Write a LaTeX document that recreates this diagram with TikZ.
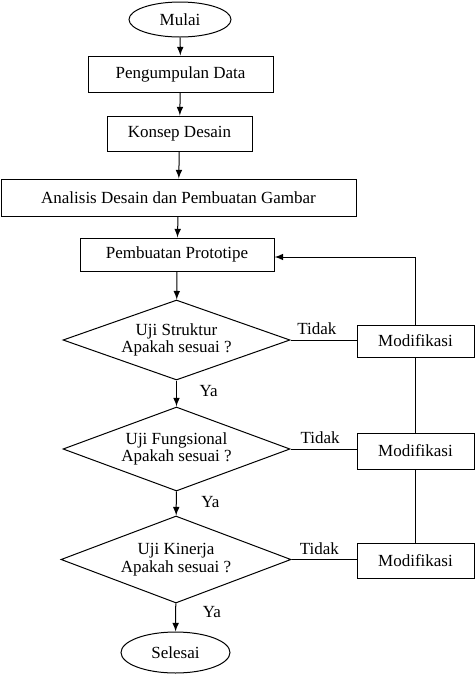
\documentclass[tikz,border=0pt]{standalone}
\usepackage{fontspec}
\setmainfont{Liberation Serif}
\usetikzlibrary{arrows,shapes.geometric}

\tikzset{
  kotak/.style={draw, rectangle, inner sep=0pt, minimum width=#1},
  mulaiselesai/.style={draw, ellipse, inner sep=0pt},
  ujian/.style={draw, diamond, aspect=2.8, inner sep=0pt, align=center},
  panah/.style={-latex, line width=0.5pt},
  garis/.style={line width=0.5pt}
}

\begin{document}
\begin{tikzpicture}[x=0.5pt,y=-0.5pt,every node/.style={font=\fontsize{8.5}{8.8}\selectfont, line width=0.5pt}]
\useasboundingbox (0,0) rectangle (475,676);

%Awal
\node[mulaiselesai, minimum width=51pt, minimum height=17.5pt] (mulai) at (180,19.5) {Mulai};
\node[kotak=92.5pt, minimum height=18pt] (data) at (180.5,74) {Pengumpulan Data};
\node[kotak=72.5pt, minimum height=17.5pt] (konsep) at (179.5,133.5) {Konsep Desain};
\node[kotak=177.5pt, minimum height=18.5pt] (analisis) at (178.5,197.5) {Analisis Desain dan Pembuatan Gambar};
\node[kotak=97pt, minimum height=16.5pt] (proto) at (177,254.5) {Pembuatan Prototipe};
\draw[panah] (mulai) -- (data);
\draw[panah] (data) -- (konsep);
\draw[panah] (konsep) -- (analisis);
\draw[panah] (analisis) -- (proto);

%Pengujian
\node[ujian, minimum width=113.5pt, minimum height=40pt] (uji1) at (176.5,340) {Uji Struktur\\Apakah sesuai ?};
\node[ujian, minimum width=113.5pt, minimum height=42pt] (uji2) at (176.5,449) {Uji Fungsional\\Apakah sesuai ?};
\node[ujian, minimum width=115pt, minimum height=43.5pt] (uji3) at (176,559.5) {Uji Kinerja\\Apakah sesuai ?};
\node[mulaiselesai, minimum width=54.5pt, minimum height=20.5pt] (selesai) at (175.5,652.5) {Selesai};
\draw[panah] (proto) -- (uji1);
\draw[panah] (uji1) -- node[pos=0.4, right, xshift=8pt] (ya1) {Ya} (uji2);
\draw[panah] (uji2) -- node[pos=0.45, right, xshift=9pt] (ya2) {Ya} (uji3);
\draw[panah] (uji3) -- node[pos=0.3, right, xshift=10pt] (ya3) {Ya} (selesai);

%Modifikasi
\node[kotak=58.5pt, minimum height=16pt] (mod1) at (415.5,341) {Modifikasi};
\node[kotak=58.5pt, minimum height=18pt] (mod2) at (415.5,451) {Modifikasi};
\node[kotak=58.5pt, minimum height=17.5pt] (mod3) at (415.5,560.5) {Modifikasi};
\draw[garis] (uji1.east) -- node[pos=0.4, above, yshift=-1pt] (tidak1) {Tidak} (uji1.east -| mod1.west);
\draw[garis] (uji2.east) -- node[pos=0.45, above, yshift=-1pt] (tidak2) {Tidak} (uji2.east -| mod2.west);
\draw[garis] (uji3.east) -- node[pos=0.43, above, yshift=-1pt] (tidak3) {Tidak} (uji3.east -| mod3.west);
\draw[garis] (mod3) -- (mod2);
\draw[garis] (mod2) -- (mod1);
\draw[panah] (mod1.north) |- ([yshift=-1.25pt]proto.east);

\end{tikzpicture}
\end{document}
